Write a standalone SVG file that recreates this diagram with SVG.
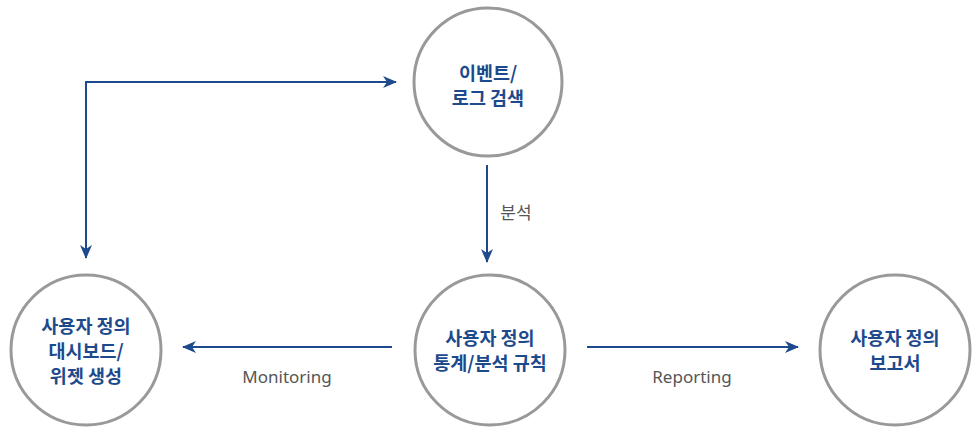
<svg xmlns="http://www.w3.org/2000/svg" width="979" height="428" viewBox="0 0 979 428">
<defs>
<marker id="ah" viewBox="0 0 14 12" refX="13" refY="6" markerWidth="14" markerHeight="12" markerUnits="userSpaceOnUse" orient="auto-start-reverse">
<path d="M0,0 L14,6 L0,12 L4,6 Z" fill="#1d4a8c"/>
</marker>
<style>
.node circle{fill:#fff;stroke:#999;stroke-width:3}
.node text{font-family:"Noto Sans CJK KR","Noto Sans",sans-serif;font-weight:bold;font-size:18.5px;fill:#1d4a8c;text-anchor:middle}
.conn path{fill:none;stroke:#1d4a8c;stroke-width:2}
.lbl{font-family:"Noto Sans","Noto Sans CJK KR",sans-serif;font-size:17px;fill:#555;text-anchor:middle}
</style>
</defs>
<rect width="979" height="428" fill="#fff"/>
<g id="connectors" class="conn">
<path d="M86,258 L86,82 L396,82" marker-start="url(#ah)" marker-end="url(#ah)"/>
<path d="M487,165 L487,262" marker-end="url(#ah)"/>
<path d="M392,347 L183,347" marker-end="url(#ah)"/>
<path d="M587,347 L798,347" marker-end="url(#ah)"/>
<text class="lbl" x="516" y="219">분석</text>
<text class="lbl" x="287" y="383">Monitoring</text>
<text class="lbl" x="692" y="383">Reporting</text>
</g>
<g id="n-event" class="node">
<circle cx="488" cy="82" r="74"/>
<text x="488" y="80">이벤트/</text>
<text x="488" y="105">로그 검색</text>
</g>
<g id="n-dashboard" class="node">
<circle cx="86" cy="350" r="75"/>
<text x="86" y="333">사용자 정의</text>
<text x="86" y="358">대시보드/</text>
<text x="86" y="383">위젯 생성</text>
</g>
<g id="n-rules" class="node">
<circle cx="490" cy="350" r="75"/>
<text x="490" y="345">사용자 정의</text>
<text x="490" y="370">통계/분석 규칙</text>
</g>
<g id="n-report" class="node">
<circle cx="895" cy="350" r="75"/>
<text x="895" y="345">사용자 정의</text>
<text x="895" y="370">보고서</text>
</g>
</svg>
